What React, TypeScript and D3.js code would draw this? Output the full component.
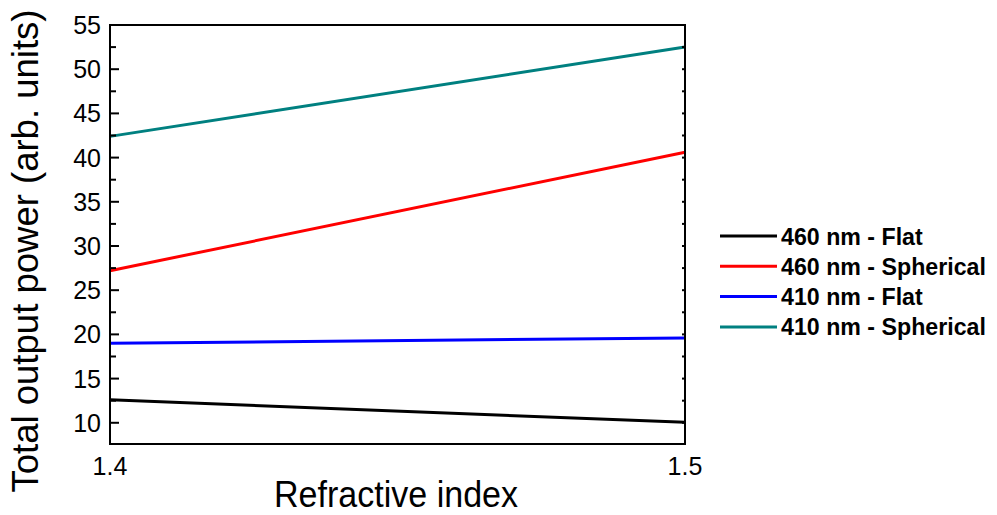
import React, { useEffect, useRef } from "react";
import * as d3 from "d3";

const refractiveIndex = [1.4, 1.5];
const seriesNames = ["460 nm - Flat", "460 nm - Spherical", "410 nm - Flat", "410 nm - Spherical"];
const flat460 = [12.6, 10.05];
const spherical460 = [27.2, 40.6];
const flat410 = [19.0, 19.6];
const spherical410 = [42.4, 52.5];
const seriesColors = ["#000000", "#ff0000", "#0000ff", "#008080"];
const yTicks = [10, 15, 20, 25, 30, 35, 40, 45, 50, 55];
const yMinorTicks = [12.5, 17.5, 22.5, 27.5, 32.5, 37.5, 42.5, 47.5, 52.5];
const xTicks = [1.4, 1.5];

const font = "'Liberation Sans', Arial, sans-serif";

const App = () => {
	const ref = useRef<SVGSVGElement>(null);

	useEffect(() => {
		const width = 997;
		const height = 515;
		const margin = { top: 25, right: 312, bottom: 71, left: 110 };
		const svg = d3.select(ref.current);
		svg.selectAll("*").remove();

		const x = d3
			.scaleLinear()
			.domain([1.4, 1.5])
			.range([margin.left, width - margin.right]);
		const y = d3
			.scaleLinear()
			.domain([7.6, 55])
			.range([height - margin.bottom, margin.top]);

		const series = [flat460, spherical460, flat410, spherical410];
		const line = d3
			.line<number>()
			.x((_, i) => x(refractiveIndex[i]))
			.y((d) => y(d));

		series.forEach((s, i) => {
			svg
				.append("path")
				.datum(s)
				.attr("fill", "none")
				.attr("stroke", seriesColors[i])
				.attr("stroke-width", 3)
				.attr("d", line);
		});

		const x0 = x.range()[0];
		const x1 = x.range()[1];
		const y0 = y.range()[0];
		const y1 = y.range()[1];

		// left axis ticks point inward, right axis gets tiny ones
		const ticks = svg.append("g").attr("stroke", "#000").attr("stroke-width", 2);
		yTicks.forEach((t) => {
			ticks.append("line").attr("x1", x0).attr("x2", x0 + 9).attr("y1", y(t)).attr("y2", y(t));
		});
		yMinorTicks.forEach((t) => {
			ticks.append("line").attr("x1", x0).attr("x2", x0 + 6).attr("y1", y(t)).attr("y2", y(t));
		});
		[...yTicks, ...yMinorTicks].forEach((t) => {
			ticks.append("line").attr("x1", x1).attr("x2", x1 - 3).attr("y1", y(t)).attr("y2", y(t));
		});

		svg
			.append("rect")
			.attr("x", x0)
			.attr("y", y1)
			.attr("width", x1 - x0)
			.attr("height", y0 - y1)
			.attr("fill", "none")
			.attr("stroke", "#000")
			.attr("stroke-width", 2);

		svg
			.append("g")
			.selectAll("text")
			.data(yTicks)
			.join("text")
			.attr("x", x0 - 9)
			.attr("y", (d) => y(d))
			.attr("dy", "0.36em")
			.attr("text-anchor", "end")
			.attr("font-family", font)
			.attr("font-size", 25)
			.text((d) => d);

		svg
			.append("g")
			.selectAll("text")
			.data(xTicks)
			.join("text")
			.attr("x", (d) => x(d))
			.attr("y", 475)
			.attr("text-anchor", "middle")
			.attr("font-family", font)
			.attr("font-size", 25)
			.text((d) => d.toFixed(1));

		svg
			.append("text")
			.attr("x", 396)
			.attr("y", 507)
			.attr("text-anchor", "middle")
			.attr("font-family", font)
			.attr("font-size", 36)
			.attr("textLength", 244)
			.attr("lengthAdjust", "spacingAndGlyphs")
			.text("Refractive index");

		svg
			.append("text")
			.attr("transform", "translate(38,251) rotate(-90)")
			.attr("text-anchor", "middle")
			.attr("font-family", font)
			.attr("font-size", 37)
			.attr("textLength", 483)
			.attr("lengthAdjust", "spacingAndGlyphs")
			.text("Total output power (arb. units)");

		const legend = svg.append("g").attr("transform", "translate(720,236)");
		seriesNames.forEach((name, i) => {
			const g = legend.append("g").attr("transform", `translate(0,${i * 30.3})`);
			g.append("line")
				.attr("x1", 0)
				.attr("x2", 57)
				.attr("y1", 0)
				.attr("y2", 0)
				.attr("stroke", seriesColors[i])
				.attr("stroke-width", 3);
			g.append("text")
				.attr("x", 61)
				.attr("y", 8.5)
				.attr("font-family", font)
				.attr("font-weight", "bold")
				.attr("font-size", 23.2)
				.text(name);
		});
	}, []);

	return (
		<svg
			ref={ref}
			width={997}
			height={515}
			style={{ position: "absolute", left: 0, top: 0, background: "#fff" }}
		/>
	);
};

export default App;
